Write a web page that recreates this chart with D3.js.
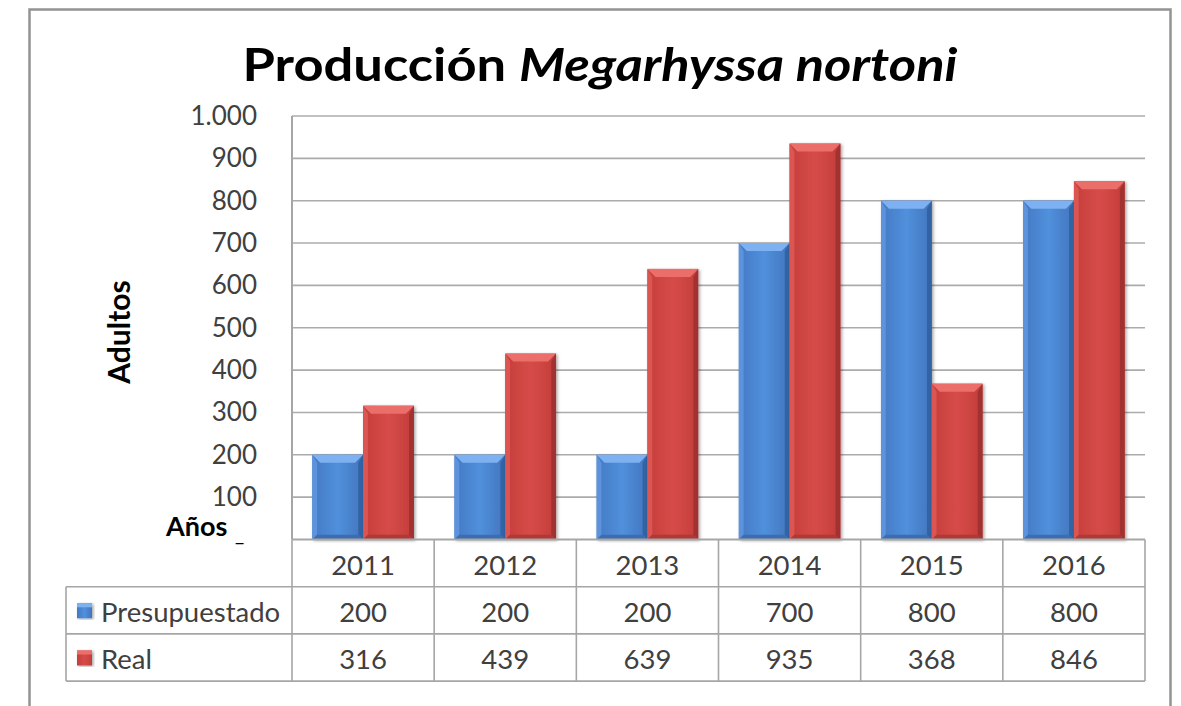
<!DOCTYPE html>
<html>
<head>
<meta charset="utf-8">
<script src="https://cdn.jsdelivr.net/npm/d3@7"></script>
<style>
  body { margin: 0; background: #fff; }
  svg { display: block; }
  text { font-family: Lato, "Open Sans", sans-serif; }
</style>
</head>
<body>
<div id="chart"></div>
<script>
// Données
const years = ["2011", "2012", "2013", "2014", "2015", "2016"];
const presupuestado = [200, 200, 200, 700, 800, 800];
const real = [316, 439, 639, 935, 368, 846];
const seriesNames = ["Presupuestado", "Real"];
const yTicks = [100, 200, 300, 400, 500, 600, 700, 800, 900, 1000];

const width = 1181, height = 706;
const plot = { left: 292, right: 1145, top: 116, bottom: 539.5 };
const tableLeft = 66;
const rowH = 47.2;
const gapWidth = 0.8; // écart entre groupes, en fraction de largeur de barre

// Couleurs (corps, haut, gauche, droite, bas)
const palette = {
    Presupuestado: { body: ["#4379c3", "#5190dc", "#4175bd"], top: "#7db1f1", left: "#5b93dc", right: "#3263a4", bottom: "#3c6db1" },
    Real: { body: ["#c53e3b", "#d64c48", "#c33d3a"], top: "#ec6e6b", left: "#db5652", right: "#a03130", bottom: "#b03734" }
};

const svg = d3.select("#chart").append("svg")
    .attr("width", width)
    .attr("height", height);

const defs = svg.append("defs");
seriesNames.forEach((s, i) => {
    const g = defs.append("linearGradient").attr("id", "grad" + i)
        .attr("x1", "0").attr("x2", "1").attr("y1", "0").attr("y2", "0");
    g.append("stop").attr("offset", "0%").attr("stop-color", palette[s].body[0]);
    g.append("stop").attr("offset", "50%").attr("stop-color", palette[s].body[1]);
    g.append("stop").attr("offset", "100%").attr("stop-color", palette[s].body[2]);
});
defs.append("filter").attr("id", "shadow")
    .attr("x", "-20%").attr("y", "-5%").attr("width", "140%").attr("height", "115%")
    .append("feDropShadow")
    .attr("dx", 1.5).attr("dy", 1).attr("stdDeviation", 1.5)
    .attr("flood-color", "#000").attr("flood-opacity", 0.35);

// Cadre extérieur
svg.append("rect")
    .attr("x", 29.5).attr("y", 9.5)
    .attr("width", 1141).attr("height", 720)
    .attr("fill", "#fff")
    .attr("stroke", "#939393")
    .attr("stroke-width", 2.5);

// Titre
const title = svg.append("text")
    .attr("x", 600).attr("y", 81)
    .attr("text-anchor", "middle")
    .attr("font-size", 45)
    .attr("font-weight", "bold")
    .attr("fill", "#000")
    .attr("textLength", 715)
    .attr("lengthAdjust", "spacingAndGlyphs");
title.append("tspan").text("Producción ");
title.append("tspan").attr("font-style", "italic").text("Megarhyssa nortoni");

// Échelles
const x0 = d3.scaleBand().domain(years).range([plot.left, plot.right]).padding(0);
const catW = x0.bandwidth();
const barW = catW / (seriesNames.length + gapWidth);
const x1 = d3.scaleBand().domain(seriesNames)
    .range([barW * gapWidth / 2, catW - barW * gapWidth / 2]);
const y = d3.scaleLinear().domain([0, 1000]).range([plot.bottom, plot.top]);

// Grille horizontale
svg.append("g")
    .selectAll("line")
    .data(yTicks)
    .join("line")
    .attr("x1", plot.left).attr("x2", plot.right)
    .attr("y1", d => y(d)).attr("y2", d => y(d))
    .attr("stroke", "#ababab")
    .attr("stroke-width", 1.6);

// Axe Y (étiquettes)
const fmt = d3.formatLocale({ decimal: ",", thousands: ".", grouping: [3], currency: ["", ""] }).format(",d");
const yAxis = svg.append("g")
    .attr("transform", `translate(${plot.left}, 0)`)
    .call(d3.axisLeft(y).tickValues(yTicks).tickFormat(fmt).tickSize(0).tickPadding(35));
yAxis.select(".domain").remove();
yAxis.selectAll("text")
    .attr("font-family", "Lato, sans-serif")
    .attr("font-size", 26)
    .attr("fill", "#404040");

// Ligne verticale de l'axe
svg.append("line")
    .attr("x1", plot.left).attr("x2", plot.left)
    .attr("y1", plot.top).attr("y2", plot.bottom)
    .attr("stroke", "#a6a6a6").attr("stroke-width", 2);

// Titre de l'axe Y
svg.append("text")
    .attr("transform", "translate(130, 332) rotate(-90)")
    .attr("text-anchor", "middle")
    .attr("font-size", 30)
    .attr("font-weight", "bold")
    .attr("fill", "#000")
    .text("Adultos");

svg.append("text")
    .attr("x", 166).attr("y", 536)
    .attr("font-size", 27)
    .attr("font-weight", "bold")
    .attr("fill", "#000")
    .text("Años");
svg.append("text")
    .attr("x", 235).attr("y", 541)
    .attr("font-size", 20)
    .attr("fill", "#000")
    .text("_");

// Barres avec biseau
const rows = years.map((yr, i) => ({ year: yr, values: [presupuestado[i], real[i]] }));

function drawBar(g, x, yTop, w, h, pal, gradId) {
    const b = Math.min(8, h / 2);
    const bar = g.append("g").attr("filter", "url(#shadow)");
    bar.append("rect").attr("x", x).attr("y", yTop).attr("width", w).attr("height", h)
        .attr("fill", `url(#${gradId})`);
    const poly = (pts, fill) => bar.append("polygon")
        .attr("points", pts.map(p => p.join(",")).join(" "))
        .attr("fill", fill);
    poly([[x, yTop], [x + w, yTop], [x + w - b, yTop + b], [x + b, yTop + b]], pal.top);
    poly([[x, yTop], [x + b * 0.6, yTop + b], [x + b * 0.6, yTop + h - b * 0.6], [x, yTop + h]], pal.left);
    poly([[x + w, yTop], [x + w - b * 0.6, yTop + b], [x + w - b * 0.6, yTop + h - b * 0.6], [x + w, yTop + h]], pal.right);
    poly([[x, yTop + h], [x + b * 0.6, yTop + h - b * 0.6], [x + w - b * 0.6, yTop + h - b * 0.6], [x + w, yTop + h]], pal.bottom);
}

const barsG = svg.append("g");
rows.forEach(r => {
    r.values.forEach((v, si) => {
        const s = seriesNames[si];
        drawBar(barsG, x0(r.year) + x1(s), y(v), x1.bandwidth(), y(0) - y(v), palette[s], "grad" + si);
    });
});

// Tableau de données
const tbl = svg.append("g").attr("stroke", "#a6a6a6").attr("stroke-width", 1.6);
const rowY = [plot.bottom, plot.bottom + rowH, plot.bottom + 2 * rowH, plot.bottom + 3 * rowH];
tbl.append("line").attr("x1", plot.left).attr("x2", plot.right).attr("y1", rowY[0]).attr("y2", rowY[0]).attr("stroke-width", 2);
rowY.slice(1).forEach(yy => {
    tbl.append("line").attr("x1", tableLeft).attr("x2", plot.right).attr("y1", yy).attr("y2", yy);
});
tbl.append("line").attr("x1", tableLeft).attr("x2", tableLeft).attr("y1", rowY[1]).attr("y2", rowY[3]);
years.forEach(yr => {
    tbl.append("line").attr("x1", x0(yr)).attr("x2", x0(yr)).attr("y1", rowY[0]).attr("y2", rowY[3]);
});
tbl.append("line").attr("x1", plot.right).attr("x2", plot.right).attr("y1", rowY[0]).attr("y2", rowY[3]);

const cellText = (xx, yy, txt, anchor) => svg.append("text")
    .attr("x", xx).attr("y", yy)
    .attr("text-anchor", anchor || "middle")
    .attr("dominant-baseline", "central")
    .attr("font-size", 27.5)
    .attr("fill", "#404040")
    .text(txt);

years.forEach(yr => cellText(x0(yr) + catW / 2, rowY[0] + rowH / 2 + 1, yr));
[presupuestado, real].forEach((vals, si) => {
    const cy = rowY[si + 1] + rowH / 2 + 1;
    vals.forEach((v, i) => cellText(x0(years[i]) + catW / 2, cy, v));
    // Marqueur de légende
    const pal = palette[seriesNames[si]];
    const m = svg.append("g").attr("filter", "url(#shadow)");
    m.append("rect").attr("x", 77).attr("y", cy - 8).attr("width", 15).attr("height", 15)
        .attr("fill", `url(#grad${si})`);
    m.append("rect").attr("x", 77).attr("y", cy - 8).attr("width", 15).attr("height", 4)
        .attr("fill", pal.top);
    cellText(101, cy, seriesNames[si], "start");
});
</script>
</body>
</html>
